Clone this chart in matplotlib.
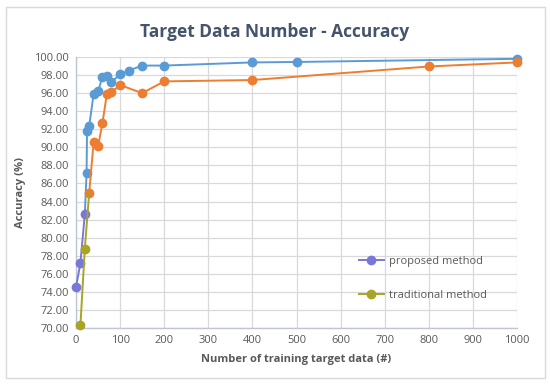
import matplotlib
matplotlib.use("Agg")
import matplotlib.pyplot as plt
from matplotlib.lines import Line2D
from matplotlib.patches import Rectangle
from matplotlib.ticker import FormatStrFormatter, MultipleLocator

# data
prop_x = [0, 10, 20, 24, 25, 30, 40, 50, 60, 70, 80, 100, 120, 150, 200, 400, 500, 1000]
prop_y = [74.5, 77.2, 82.6, 87.2, 91.8, 92.4, 95.9, 96.2, 97.8, 97.9, 97.2, 98.1,
          98.5, 99.05, 99.05, 99.4, 99.45, 99.8]
trad_x = [10, 20, 30, 40, 50, 60, 70, 80, 100, 150, 200, 400, 800, 1000]
trad_y = [70.3, 78.8, 85.0, 90.6, 90.1, 92.7, 95.9, 96.1, 96.9, 96.0, 97.3, 97.45, 98.95, 99.4]
n_prop_early = 3   # first points drawn in the other colour
n_trad_early = 2
labels = ["proposed method", "traditional method"]

blue, orange = "#5B9BD5", "#ED7D31"
purple, olive = "#7878D8", "#A8A424"
grey = "#595959"

plt.rcParams['font.family'] = ['Open Sans', 'DejaVu Sans']

fig = plt.figure(figsize=(5.5, 3.85), dpi=100)
ax = fig.add_axes([76 / 550, 57 / 385, 441 / 550, 271 / 385])

mk = dict(marker='o', markersize=6, linewidth=1.4, clip_on=False, zorder=3)
# main parts
ax.plot(prop_x[n_prop_early - 1:], prop_y[n_prop_early - 1:], color=blue,
        markevery=list(range(1, len(prop_x) - n_prop_early + 1)), **mk)
ax.plot(trad_x[n_trad_early:], trad_y[n_trad_early:], color=orange, **mk)
# early parts
ax.plot(prop_x[:n_prop_early], prop_y[:n_prop_early], color=purple, **mk)
ax.plot(trad_x[:n_trad_early + 1], trad_y[:n_trad_early + 1], color=olive,
        markevery=list(range(n_trad_early)), **mk)

ax.set_xlim(0, 1000)
ax.set_ylim(70, 100)
ax.xaxis.set_major_locator(MultipleLocator(100))
ax.yaxis.set_major_locator(MultipleLocator(2))
ax.yaxis.set_major_formatter(FormatStrFormatter('%.2f'))
ax.grid(True, color="#D9D9D9", linewidth=0.9)
ax.set_axisbelow(True)
ax.tick_params(length=0, labelsize=8, labelcolor=grey, pad=5)
for s in ['top', 'right']:
    ax.spines[s].set_visible(False)
for s in ['left', 'bottom']:
    ax.spines[s].set_color("#BFC5D5")
    ax.spines[s].set_linewidth(1.0)

ax.set_xlabel("Number of training target data (#)", fontsize=8, fontweight='bold', color=grey, labelpad=6)
ax.set_ylabel("Accuracy (%)", fontsize=8, fontweight='bold', color=grey, labelpad=6)
fig.text(0.5, 1 - 32 / 385, "Target Data Number - Accuracy", ha='center', va='center',
         fontsize=12.5, fontweight='bold', color="#44546A")

handles = [Line2D([], [], color=purple, marker='o', markersize=6, linewidth=1.4),
           Line2D([], [], color=olive, marker='o', markersize=6, linewidth=1.4)]
ax.legend(handles, labels, loc='center left', bbox_to_anchor=(0.618, 0.183), frameon=False,
          fontsize=8, labelcolor=grey, labelspacing=2.1, handlelength=2.3, handletextpad=0.4)

fig.patches.append(Rectangle((6 / 550, 7 / 385), 539 / 550, 371 / 385, transform=fig.transFigure,
                             fill=False, edgecolor="#D9D9D9", linewidth=1.0))

fig.savefig("out.png", dpi=100)
